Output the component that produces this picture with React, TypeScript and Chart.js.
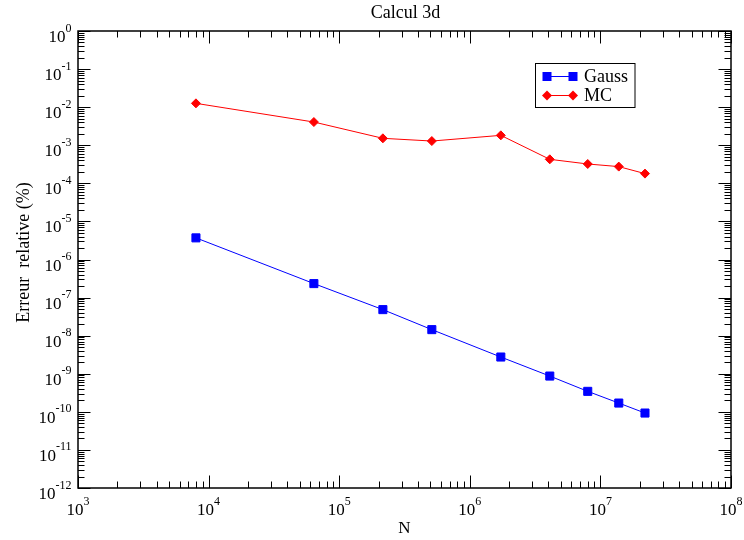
import React, { useEffect, useRef } from 'react';
import { Chart, registerables } from 'chart.js';

Chart.register(...registerables);

// Number of integration points N (n^3 grids)
const nValues = [8000, 64000, 216000, 512000, 1728000, 4096000, 8000000, 13824000, 21952000];
// Relative error (%) of the Gauss quadrature
const gaussErr = [3.7e-6, 2.33e-7, 4.83e-8, 1.44e-8, 2.75e-9, 8.7e-10, 3.45e-10, 1.7e-10, 9.3e-11];
// Relative error (%) of the Monte-Carlo estimate
const mcErr = [1.26e-2, 4.07e-3, 1.52e-3, 1.29e-3, 1.82e-3, 4.27e-4, 3.22e-4, 2.75e-4, 1.8e-4];

// Decade exponents used for the axis tick labels
const xExponents = [3, 4, 5, 6, 7, 8];
const yExponents = [0, -1, -2, -3, -4, -5, -6, -7, -8, -9, -10, -11, -12];

const titleText = 'Calcul 3d';
const xTitle = 'N';
const yTitle = 'Erreur  relative (%)';
const seriesNames = ['Gauss', 'MC'];

const SERIF = '"Liberation Serif", "Times New Roman", serif';
const BLUE = '#0000ff';
const RED = '#ff0000';

function drawSquare(ctx: CanvasRenderingContext2D, x: number, y: number, half: number, color: string) {
  ctx.fillStyle = color;
  ctx.fillRect(x - half, y - half, half * 2, half * 2);
}

function drawDiamond(ctx: CanvasRenderingContext2D, x: number, y: number, r: number, color: string) {
  ctx.fillStyle = color;
  ctx.beginPath();
  ctx.moveTo(x - r, y);
  ctx.lineTo(x, y - r);
  ctx.lineTo(x + r, y);
  ctx.lineTo(x, y + r);
  ctx.closePath();
  ctx.fill();
}

// Frame, inward log ticks on all four sides, power-of-ten labels, titles and legend
const decorations = {
  id: 'decorations',
  afterDraw(chart: any) {
    const { ctx, chartArea } = chart;
    const { left, right, top, bottom } = chartArea;
    const xs = chart.scales.x;
    const ys = chart.scales.y;
    ctx.save();

    // frame
    ctx.strokeStyle = '#000';
    ctx.lineWidth = 1.5;
    ctx.strokeRect(left, top, right - left, bottom - top);

    // ticks
    ctx.lineWidth = 1;
    ctx.beginPath();
    const majorLen = 12.5;
    const minorLen = 6.5;
    for (let e = xExponents[0]; e <= xExponents[xExponents.length - 1]; e++) {
      for (let m = 1; m <= 9; m++) {
        const v = m * Math.pow(10, e);
        if (v > Math.pow(10, xExponents[xExponents.length - 1])) break;
        const px = Math.round(xs.getPixelForValue(v)) + 0.5;
        const len = m === 1 ? majorLen : minorLen;
        ctx.moveTo(px, bottom);
        ctx.lineTo(px, bottom - len);
        ctx.moveTo(px, top);
        ctx.lineTo(px, top + len);
      }
    }
    const yMin = yExponents[yExponents.length - 1];
    const yMax = yExponents[0];
    for (let e = yMin; e <= yMax; e++) {
      for (let m = 1; m <= 9; m++) {
        const v = m * Math.pow(10, e);
        if (v > Math.pow(10, yMax)) break;
        const py = Math.round(ys.getPixelForValue(v)) + 0.5;
        const len = m === 1 ? majorLen : minorLen;
        ctx.moveTo(left, py);
        ctx.lineTo(left + len, py);
        ctx.moveTo(right, py);
        ctx.lineTo(right - len, py);
      }
    }
    ctx.stroke();

    // tick labels
    ctx.fillStyle = '#000';
    ctx.textAlign = 'left';
    ctx.textBaseline = 'alphabetic';
    const baseFont = `17px ${SERIF}`;
    const expFont = `12px ${SERIF}`;
    ctx.font = baseFont;
    const bw = ctx.measureText('10').width;

    yExponents.forEach((e) => {
      const py = ys.getPixelForValue(Math.pow(10, e));
      const exp = String(e);
      ctx.font = expFont;
      const ew = ctx.measureText(exp).width;
      const end = left - 6.5;
      ctx.font = baseFont;
      ctx.fillText('10', end - ew - bw, py + 11);
      ctx.font = expFont;
      ctx.fillText(exp, end - ew, py + 0.5);
    });

    xExponents.forEach((e) => {
      const px = xs.getPixelForValue(Math.pow(10, e));
      const exp = String(e);
      ctx.font = expFont;
      const ew = ctx.measureText(exp).width;
      const start = px - (bw + ew) / 2;
      ctx.font = baseFont;
      ctx.fillText('10', start, bottom + 26.5);
      ctx.font = expFont;
      ctx.fillText(exp, start + bw, bottom + 16.5);
    });

    // titles
    ctx.textAlign = 'center';
    ctx.font = `18px ${SERIF}`;
    ctx.fillText(titleText, (left + right) / 2 + 1, 17.5);
    ctx.font = `17px ${SERIF}`;
    ctx.fillText(xTitle, (left + right) / 2, bottom + 45.3);
    ctx.save();
    ctx.translate(29.3, (top + bottom) / 2 - 7);
    ctx.rotate(-Math.PI / 2);
    ctx.font = `18px ${SERIF}`;
    ctx.fillText(yTitle, 0, 0);
    ctx.restore();

    // legend
    const lx = 535.5;
    const ly = 63.5;
    ctx.strokeStyle = '#000';
    ctx.lineWidth = 1;
    ctx.strokeRect(lx, ly, 99.5, 44);
    const rows = [
      { name: seriesNames[0], color: BLUE, y: 76, kind: 'square' },
      { name: seriesNames[1], color: RED, y: 95, kind: 'diamond' },
    ];
    rows.forEach((r) => {
      ctx.strokeStyle = r.color;
      ctx.lineWidth = 1;
      ctx.beginPath();
      ctx.moveTo(547, r.y + 0.5);
      ctx.lineTo(573, r.y + 0.5);
      ctx.stroke();
      [547, 573].forEach((mx) => {
        if (r.kind === 'square') drawSquare(ctx, mx, r.y + 0.5, 4.5, r.color);
        else drawDiamond(ctx, mx, r.y + 0.5, 5, r.color);
      });
      ctx.fillStyle = '#000';
      ctx.textAlign = 'left';
      ctx.font = `18px ${SERIF}`;
      ctx.fillText(r.name, 584, r.y + 6);
    });

    ctx.restore();
  },
};

export default function App() {
  const canvasRef = useRef<HTMLCanvasElement | null>(null);

  useEffect(() => {
    const canvas = canvasRef.current;
    if (!canvas) return;
    const chart = new Chart(canvas, {
      type: 'line',
      data: {
        datasets: [
          {
            label: seriesNames[0],
            data: nValues.map((n, i) => ({ x: n, y: gaussErr[i] })),
            borderColor: BLUE,
            backgroundColor: BLUE,
            borderWidth: 1,
            pointStyle: 'rect',
            pointRadius: 5.7,
            pointBorderWidth: 1,
            pointBackgroundColor: BLUE,
            pointBorderColor: BLUE,
            tension: 0,
          },
          {
            label: seriesNames[1],
            data: nValues.map((n, i) => ({ x: n, y: mcErr[i] })),
            borderColor: RED,
            backgroundColor: RED,
            borderWidth: 1,
            pointStyle: 'rectRot',
            pointRadius: 4.5,
            pointBorderWidth: 1,
            pointBackgroundColor: RED,
            pointBorderColor: RED,
            tension: 0,
          },
        ],
      },
      options: {
        animation: false,
        responsive: false,
        devicePixelRatio: 1,
        layout: { padding: { left: 78, top: 31, right: 13, bottom: 52 } },
        scales: {
          x: {
            type: 'logarithmic',
            min: Math.pow(10, xExponents[0]),
            max: Math.pow(10, xExponents[xExponents.length - 1]),
            display: false,
          },
          y: {
            type: 'logarithmic',
            min: Math.pow(10, yExponents[yExponents.length - 1]),
            max: Math.pow(10, yExponents[0]),
            display: false,
          },
        },
        plugins: {
          legend: { display: false },
          title: { display: false },
          tooltip: { enabled: false },
        },
      },
      plugins: [decorations],
    });
    return () => chart.destroy();
  }, []);

  return (
    <div style={{ position: 'absolute', left: 0, top: 0, width: 744, height: 540, background: '#fff' }}>
      <canvas ref={canvasRef} width={744} height={540} style={{ width: 744, height: 540, display: 'block' }} />
    </div>
  );
}
